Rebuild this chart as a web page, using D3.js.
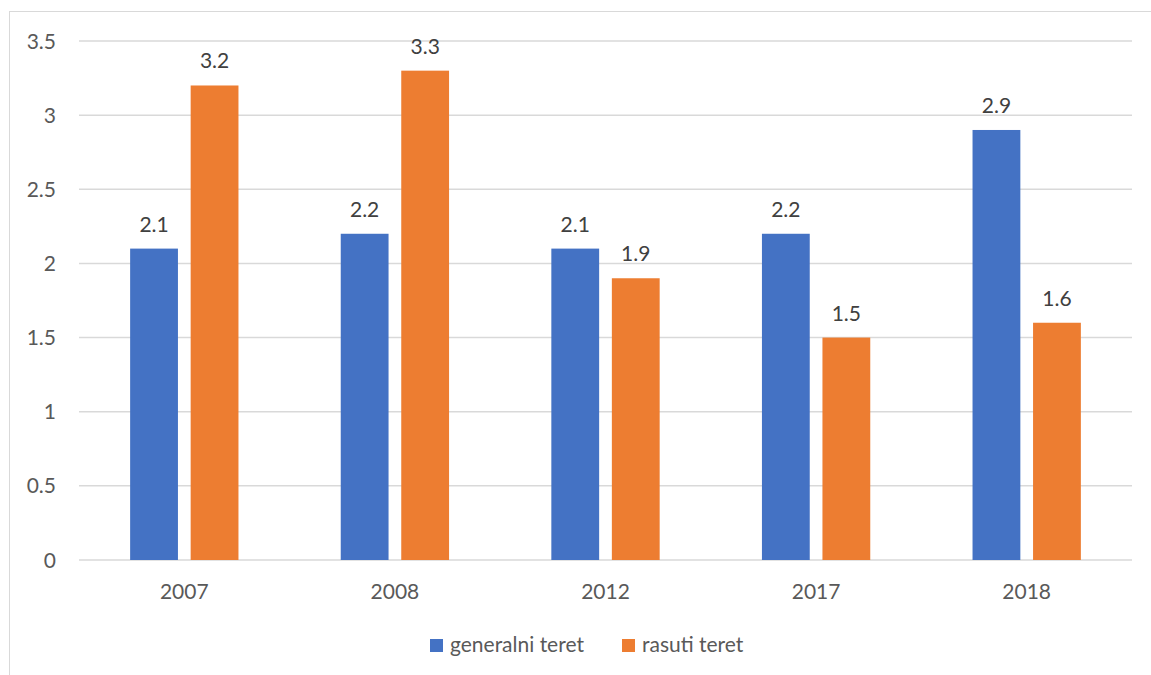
<!DOCTYPE html>
<html>
<head>
<meta charset="utf-8">
<script src="https://cdn.jsdelivr.net/npm/d3@7"></script>
<style>
  body { margin: 0; background: #fff; }
  svg { display: block; font-family: Lato, "Open Sans", sans-serif; }
</style>
</head>
<body>
<div id="container"></div>
<script>
const years = ["2007", "2008", "2012", "2017", "2018"];
const seriesNames = ["generalni teret", "rasuti teret"];
const generalni = [2.1, 2.2, 2.1, 2.2, 2.9];
const rasuti = [3.2, 3.3, 1.9, 1.5, 1.6];
const yTicks = [0, 0.5, 1, 1.5, 2, 2.5, 3, 3.5];
const colors = ["#4472c4", "#ed7d31"];

const width = 1151;
const height = 675;
const marginLeft = 79;
const marginRight = 19;
const marginTop = 41;
const marginBottom = 115;
const fontSize = 21;

const svg = d3.select("#container").append("svg")
  .attr("width", width)
  .attr("height", height);

// chart frame, runs past the right/bottom edge like the screenshot
svg.append("rect")
  .attr("x", 9.5).attr("y", 11.5)
  .attr("width", width).attr("height", height)
  .attr("fill", "none").attr("stroke", "#d9d9d9").attr("stroke-width", 1);

const x = d3.scaleBand()
  .domain(years)
  .range([marginLeft, width - marginRight]);

const xInner = d3.scaleBand()
  .domain(seriesNames)
  .range([0, x.bandwidth()])
  .paddingInner(0.21)
  .paddingOuter(0.845);

const y = d3.scaleLinear()
  .domain([0, 3.5])
  .range([height - marginBottom, marginTop]);

// grid
svg.append("g")
  .selectAll("line")
  .data(yTicks)
  .join("line")
  .attr("x1", marginLeft).attr("x2", width - marginRight)
  .attr("y1", d => y(d)).attr("y2", d => y(d))
  .attr("stroke", "#d9d9d9").attr("stroke-width", 1.5);

// y labels
svg.append("g")
  .selectAll("text")
  .data(yTicks)
  .join("text")
  .attr("x", 56)
  .attr("y", d => y(d))
  .attr("dy", "0.36em")
  .attr("text-anchor", "end")
  .attr("fill", "#595959")
  .attr("font-size", fontSize)
  .text(d => d);

const table = years.map((yr, i) => ({ year: yr, values: [generalni[i], rasuti[i]] }));

const groups = svg.append("g")
  .selectAll("g")
  .data(table)
  .join("g")
  .attr("transform", d => `translate(${x(d.year)},0)`);

const bars = groups.selectAll("g")
  .data(d => d.values.map((v, j) => ({ key: seriesNames[j], value: v, j })))
  .join("g");

bars.append("rect")
  .attr("x", d => xInner(d.key))
  .attr("width", xInner.bandwidth())
  .attr("y", d => y(d.value))
  .attr("height", d => y(0) - y(d.value))
  .attr("fill", d => colors[d.j]);

bars.append("text")
  .attr("x", d => xInner(d.key) + xInner.bandwidth() / 2)
  .attr("y", d => y(d.value) - 17)
  .attr("text-anchor", "middle")
  .attr("fill", "#404040")
  .attr("font-size", fontSize)
  .text(d => d.value);

// x labels
svg.append("g")
  .selectAll("text")
  .data(years)
  .join("text")
  .attr("x", d => x(d) + x.bandwidth() / 2)
  .attr("y", 599)
  .attr("text-anchor", "middle")
  .attr("fill", "#595959")
  .attr("font-size", fontSize)
  .text(d => d);

// legend
const legendX = [430, 622];
const legend = svg.append("g")
  .selectAll("g")
  .data(seriesNames)
  .join("g")
  .attr("transform", (d, i) => `translate(${legendX[i]},639)`);

legend.append("rect")
  .attr("width", 13).attr("height", 13)
  .attr("fill", (d, i) => colors[i]);

legend.append("text")
  .attr("x", 20)
  .attr("y", 13)
  .attr("fill", "#595959")
  .attr("font-size", fontSize)
  .text(d => d);
</script>
</body>
</html>
